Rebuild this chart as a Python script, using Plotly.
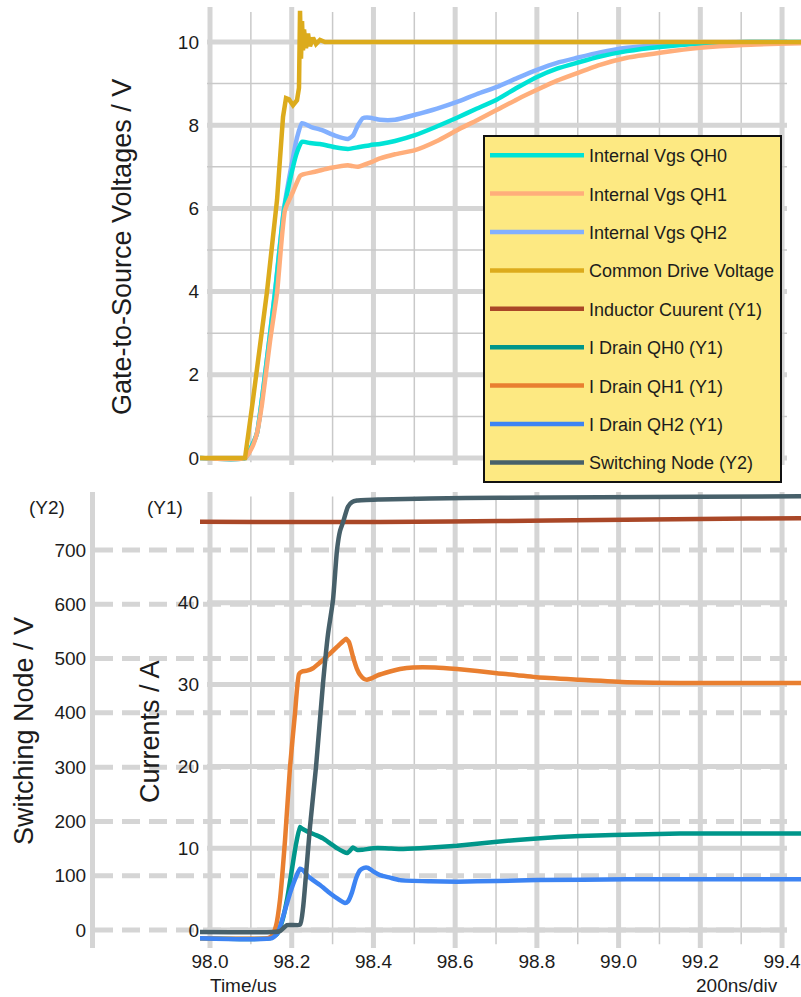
import plotly.graph_objects as go

# ---------------- data ----------------
t_drive = [97.9755, 98.0857, 98.1052, 98.1395, 98.1640, 98.1787, 98.1860, 98.1933, 98.2031,
           98.2129, 98.2178, 98.2203, 98.2227, 98.2252, 98.2276, 98.2301, 98.2349, 98.2398,
           98.2447, 98.2521, 98.2594, 98.2692, 98.2815, 98.3182, 98.6, 99.0, 99.4464]
v_drive = [0.0, 0.0, 1.4, 4.0, 6.2, 8.2, 8.65, 8.62, 8.48,
           8.6, 8.9, 10.75, 9.6, 10.5, 9.8, 10.3, 9.85, 10.2,
           9.9, 10.1, 9.95, 10.05, 10.0, 10.0, 10.0, 10.0, 10.0]

t_qh0 = [97.9755, 98.0857, 98.1028, 98.1150, 98.1346, 98.1591, 98.1811, 98.2007, 98.2129,
         98.2252, 98.2447, 98.2692, 98.3059, 98.3377, 98.3622, 98.3916, 98.4161, 98.4528,
         98.5017, 98.5507, 98.6045, 98.6535, 98.7024, 98.7513, 98.8003, 98.8492, 98.8982,
         98.9545, 99.0206, 99.1013, 99.1992, 99.3216, 99.4464]
v_qh0 = [0.0, 0.0, 0.3, 0.6, 2.0, 3.97, 5.96, 6.9, 7.35,
         7.6, 7.57, 7.55, 7.47, 7.43, 7.47, 7.52, 7.55, 7.62,
         7.76, 7.95, 8.18, 8.4, 8.62, 8.9, 9.16, 9.36, 9.5,
         9.65, 9.78, 9.88, 9.96, 10.0, 10.0]

t_qh1 = [97.9755, 98.0857, 98.1028, 98.1150, 98.1273, 98.1468, 98.1640, 98.1836, 98.2031,
         98.2203, 98.2276, 98.2570, 98.2937, 98.3377, 98.3475, 98.3622, 98.3916, 98.4161,
         98.4528, 98.5017, 98.5556, 98.6045, 98.6535, 98.7024, 98.7513, 98.8003, 98.8492,
         98.8982, 98.9545, 99.0206, 99.1013, 99.1992, 99.3045, 99.4464]
v_qh1 = [0.0, 0.0, 0.25, 0.6, 1.3, 2.8, 3.97, 5.96, 6.4,
         6.78, 6.82, 6.88, 6.97, 7.04, 7.02, 7.0, 7.1, 7.2,
         7.3, 7.4, 7.62, 7.88, 8.12, 8.37, 8.62, 8.85, 9.07,
         9.25, 9.45, 9.62, 9.74, 9.86, 9.93, 9.97]

t_qh2 = [97.9755, 98.0857, 98.1028, 98.1150, 98.1346, 98.1591, 98.1811, 98.2007, 98.2129,
         98.2252, 98.2496, 98.2741, 98.3059, 98.3377, 98.3500, 98.3622, 98.3744, 98.3916,
         98.4161, 98.4528, 98.5017, 98.5556, 98.6045, 98.6535, 98.7024, 98.7513, 98.8003,
         98.8492, 98.8982, 98.9545, 99.0206, 99.1013, 99.1992, 99.3216, 99.4464]
v_qh2 = [0.0, 0.0, 0.3, 0.6, 2.0, 4.0, 6.0, 7.1, 7.7,
         8.05, 7.95, 7.88, 7.75, 7.67, 7.75, 8.0, 8.17, 8.18,
         8.13, 8.13, 8.25, 8.4, 8.56, 8.75, 8.92, 9.13, 9.33,
         9.5, 9.62, 9.75, 9.86, 9.93, 9.98, 10.0, 10.0]

t_ind = [97.9755, 98.2203, 98.4161, 98.5874, 98.8321, 99.0769, 99.3216, 99.4464]
i_ind = [49.9, 49.88, 49.88, 49.93, 50.05, 50.17, 50.3, 50.35]

t_id0 = [97.9755, 98.1468, 98.1640, 98.1762, 98.1884, 98.2007, 98.2105, 98.2203, 98.2252,
         98.2325, 98.2447, 98.2594, 98.2766, 98.2937, 98.3108, 98.3255, 98.3353, 98.3426,
         98.3500, 98.3598, 98.3720, 98.3989, 98.4283, 98.4650, 98.5140, 98.6045, 98.7024,
         98.8003, 98.9055, 98.9863, 99.1503, 99.4464]
i_id0 = [-1.0, -1.0, -0.5, 1.0, 3.7, 7.5, 10.5, 12.6, 12.4,
         12.2, 11.9, 11.6, 11.2, 10.6, 10.0, 9.6, 9.4, 9.7,
         10.1, 9.8, 9.8, 10.0, 10.0, 9.9, 10.0, 10.3, 10.8,
         11.2, 11.5, 11.6, 11.8, 11.8]

t_id1 = [97.9755, 98.1419, 98.1517, 98.1615, 98.1713, 98.1836, 98.1958, 98.2080, 98.2178,
         98.2252, 98.2374, 98.2521, 98.2643, 98.2766, 98.2937, 98.3108, 98.3255, 98.3328,
         98.3402, 98.3500, 98.3598, 98.3671, 98.3769, 98.3842, 98.3965, 98.4087, 98.4405,
         98.4650, 98.4968, 98.5507, 98.6045, 98.7024, 98.8003, 98.9055, 99.0206, 99.1503,
         99.4464]
i_id1 = [-1.0, -1.0, -0.7, 0.5, 3.7, 11.0, 19.9, 26.5, 31.3,
         31.6, 31.7, 32.0, 32.5, 33.0, 33.8, 34.6, 35.3, 35.6,
         35.2, 33.4, 31.9, 31.2, 30.7, 30.6, 30.8, 31.1, 31.6,
         31.9, 32.1, 32.1, 31.9, 31.4, 30.9, 30.6, 30.3, 30.2,
         30.2]

t_id2 = [97.9755, 98.1517, 98.1664, 98.1787, 98.1958, 98.2105, 98.2203, 98.2276, 98.2398,
         98.2521, 98.2692, 98.2937, 98.3133, 98.3304, 98.3377, 98.3475, 98.3573, 98.3671,
         98.3769, 98.3867, 98.4014, 98.4161, 98.4405, 98.4650, 98.5384, 98.6045, 98.7024,
         98.8003, 99.0206, 99.4464]
i_id2 = [-1.0, -1.0, -0.3, 1.6, 4.5, 6.5, 7.5, 7.3, 6.6,
         6.1, 5.5, 4.5, 3.8, 3.3, 3.5, 4.6, 6.3, 7.3,
         7.6, 7.6, 7.1, 6.7, 6.4, 6.1, 5.95, 5.9, 6.0,
         6.1, 6.2, 6.2]

t_sw = [97.9755, 98.1542, 98.1713, 98.1884, 98.2203, 98.2276, 98.2325, 98.2447, 98.2594,
        98.2766, 98.2888, 98.3010, 98.3108, 98.3182, 98.3255, 98.3377, 98.3475, 98.3598,
        98.4161, 98.5384, 98.7097, 98.9545, 99.1992, 99.4464]
v_sw = [-3.7, -3.7, -2.0, 9.0, 10.0, 40.0, 80.0, 190.0, 300.0,
        455.0, 545.0, 608.0, 700.0, 735.0, 751.0, 780.0, 788.0, 791.0,
        793.0, 795.0, 796.0, 797.0, 798.0, 799.0]

x_major = [98.0, 98.2, 98.4, 98.6, 98.8, 99.0, 99.2, 99.4]
x_minor = [98.1, 98.3, 98.5, 98.7, 98.9, 99.1, 99.3]
vgs_major = [0, 2, 4, 6, 8, 10]
vgs_minor = [1, 3, 5, 7, 9]
cur_major = [0, 10, 20, 30, 40]
sw_ticks = [0, 100, 200, 300, 400, 500, 600, 700]

# ---------------- figure ----------------
W, H = 801, 997
FONT = "Liberation Sans, Arial, Helvetica, sans-serif"
TXT = "#1c1c1c"
GRID = "#d5d5d5"
GRID_THIN = "#c9c9c9"
LW = 4.5

fig = go.Figure()

def add(x, y, name, color, xa, ya, rank, smooth=True):
    line = dict(color=color, width=LW)
    if smooth:
        line.update(shape="spline", smoothing=0.5)
    fig.add_trace(go.Scatter(x=x, y=y, name=name, mode="lines", line=line,
                             xaxis=xa, yaxis=ya, legendgroup=name, legendrank=rank,
                             hoverinfo="skip"))

add(t_qh2, v_qh2, "Internal Vgs QH2", "#82b0ff", "x", "y", 3)
add(t_qh0, v_qh0, "Internal Vgs QH0", "#00e3d6", "x", "y", 1)
add(t_qh1, v_qh1, "Internal Vgs QH1", "#ffae7b", "x", "y", 2)
add(t_drive, v_drive, "Common Drive Voltage", "#dcab1c", "x", "y", 4, smooth=False)
add(t_ind, i_ind, "Inductor Cuurent (Y1)", "#a94727", "x2", "y2", 5)
add(t_id0, i_id0, "I Drain QH0 (Y1)", "#00968a", "x2", "y2", 6)
add(t_id1, i_id1, "I Drain QH1 (Y1)", "#e97f30", "x2", "y2", 7)
add(t_id2, i_id2, "I Drain QH2 (Y1)", "#3d84f3", "x2", "y2", 8)
add(t_sw, v_sw, "Switching Node (Y2)", "#47606a", "x2", "y3", 9)

px = lambda p: p / W
py = lambda p: 1 - p / H
xdom = [px(200), 1.0]
xrange_ = [97.9755, 99.4464]
gx0 = 7 / 601
gx1 = 587 / 601

shapes = []
def line_shape(**kw):
    d = dict(type="line", layer="below")
    d.update(kw)
    shapes.append(d)

for t in x_major:
    line_shape(xref="x", yref="y domain", x0=t, x1=t, y0=0, y1=1,
               line=dict(color=GRID, width=5))
for t in x_minor:
    line_shape(xref="x", yref="y domain", x0=t, x1=t, y0=0.006, y1=0.989,
               line=dict(color=GRID_THIN, width=1.5))
for v in vgs_major:
    line_shape(xref="x domain", yref="y", x0=gx0, x1=gx1, y0=v, y1=v,
               line=dict(color=GRID, width=5))
for v in vgs_minor:
    line_shape(xref="x domain", yref="y", x0=gx0, x1=gx1, y0=v, y1=v,
               line=dict(color=GRID_THIN, width=1.5))
for t in x_major:
    line_shape(xref="x2", yref="y2 domain", x0=t, x1=t, y0=0, y1=1,
               line=dict(color=GRID, width=5))
for t in x_minor:
    line_shape(xref="x2", yref="y2 domain", x0=t, x1=t, y0=0.008, y1=0.99,
               line=dict(color=GRID_THIN, width=1.5))
for v in cur_major:
    line_shape(xref="x2 domain", yref="y2", x0=gx0, x1=gx1, y0=v, y1=v,
               line=dict(color=GRID, width=5))
for v in sw_ticks:
    line_shape(xref="paper", yref="y3", x0=px(95), x1=px(787), y0=v, y1=v,
               line=dict(color=GRID, width=5, dash="18px,9px"))

fig.update_layout(
    width=W, height=H,
    margin=dict(l=0, r=0, t=0, b=0, pad=0, autoexpand=False),
    paper_bgcolor="white", plot_bgcolor="rgba(0,0,0,0)",
    font=dict(family=FONT, size=19, color=TXT),
    shapes=shapes,
    showlegend=True,
    legend=dict(x=px(483), y=py(135), xanchor="left", yanchor="top",
                bgcolor="#fde982", bordercolor="#111111", borderwidth=2,
                font=dict(family=FONT, size=18, color=TXT),
                itemwidth=94, tracegroupgap=12, traceorder="grouped"),
    xaxis=dict(domain=xdom, range=xrange_, anchor="y", showgrid=False, zeroline=False,
               showticklabels=False, ticks="", showline=False, automargin=False),
    yaxis=dict(domain=[py(465), py(7)], range=[-0.168, 10.841], anchor="x",
               tickvals=vgs_major, showgrid=False, zeroline=False, ticks="",
               showline=False, tickfont=dict(size=19), automargin=False),
    xaxis2=dict(domain=xdom, range=xrange_, anchor="y2", showgrid=False, zeroline=False,
                tickvals=x_major, ticktext=[f"{v:.1f}" for v in x_major], ticks="",
                showline=False, tickfont=dict(size=19), ticklabeloverflow="allow",
                automargin=False),
    yaxis2=dict(domain=[py(948), py(492)], range=[-2.2, 53.545], anchor="x2",
                tickvals=cur_major, showgrid=False, zeroline=False, ticks="",
                showline=False, tickfont=dict(size=19), automargin=False),
    yaxis3=dict(overlaying="y2", anchor="free", position=px(92), side="left",
                range=[-33.16, 806.8], tickvals=sw_ticks, showgrid=False, zeroline=False,
                ticks="", showline=True, linecolor=GRID, linewidth=5,
                tickfont=dict(size=19), automargin=False),
)

annos = [
    dict(text="Gate-to-Source Voltages / V", x=px(122), y=py(247), textangle=-90, size=27),
    dict(text="Switching Node / V", x=px(24), y=py(731), textangle=-90, size=27),
    dict(text="Currents / A", x=px(150), y=py(732), textangle=-90, size=27),
    dict(text="(Y2)", x=px(47), y=py(507), textangle=0, size=19),
    dict(text="(Y1)", x=px(165), y=py(507), textangle=0, size=19),
    dict(text="Time/us", x=px(243), y=py(985), textangle=0, size=19),
    dict(text="200ns/div", x=px(737), y=py(985), textangle=0, size=19),
]
fig.update_layout(annotations=[
    dict(text=a["text"], x=a["x"], y=a["y"], xref="paper", yref="paper",
         xanchor="center", yanchor="middle", showarrow=False, textangle=a["textangle"],
         font=dict(family=FONT, size=a["size"], color=TXT))
    for a in annos
])

fig.write_html("out.html")
